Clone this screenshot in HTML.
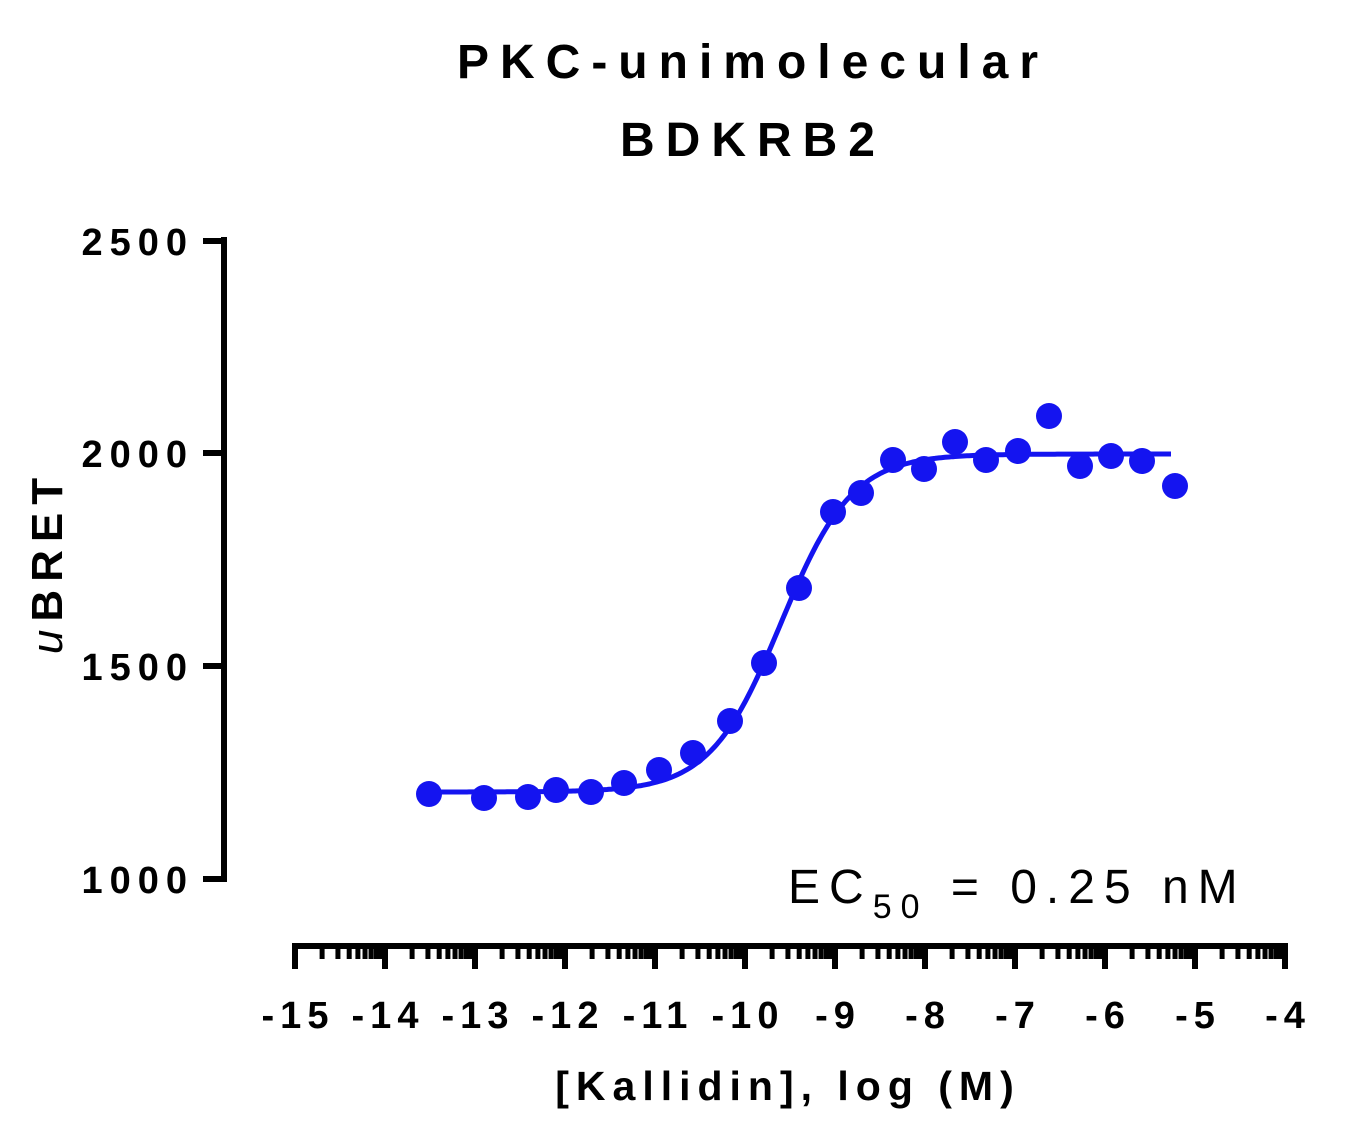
<!DOCTYPE html>
<html><head><meta charset="utf-8"><style>
html,body{margin:0;padding:0;background:#fff;}
svg{display:block;}
text{font-family:"Liberation Sans",Arial,sans-serif;fill:#000;}
</style></head><body>
<svg id="s" width="1348" height="1138" viewBox="0 0 1348 1138" xmlns="http://www.w3.org/2000/svg">
<text x="753" y="78" font-size="48" font-weight="bold" text-anchor="middle" letter-spacing="11">PKC-unimolecular</text>
<text x="753" y="156" font-size="48" font-weight="bold" text-anchor="middle" letter-spacing="11">BDKRB2</text>
<g font-size="38" font-weight="bold" text-anchor="end" letter-spacing="7">
<text x="194" y="255">2500</text>
<text x="194" y="467">2000</text>
<text x="194" y="680">1500</text>
<text x="194" y="893">1000</text>
</g>
<text transform="translate(62,562) rotate(-90)" font-size="44" font-weight="bold" text-anchor="middle" letter-spacing="8"><tspan font-style="italic" font-weight="normal">u</tspan>BRET</text>
<g stroke="#000" stroke-width="6" fill="none">
<path d="M224 237 V882"/>
<path d="M203 241 H224 M203 453 H224 M203 666 H224 M203 879 H224"/>
<path d="M292 946 H1288"/>
</g>
<g id="xt" stroke="#000" stroke-width="6"></g>
<g font-size="38" font-weight="bold" text-anchor="middle" letter-spacing="6" id="xl"></g>
<text x="788" y="1100" font-size="41" font-weight="bold" text-anchor="middle" letter-spacing="7">[Kallidin], log (M)</text>
<text x="788" y="903" font-size="48" letter-spacing="9">EC<tspan font-size="34" dy="15">50</tspan><tspan dy="-15"> = 0.25 nM</tspan></text>
<path id="curve" stroke="#1414f0" stroke-width="5" fill="none"/>
<g id="pts" fill="#1414f0"></g>
</svg>
<script>
var ns="http://www.w3.org/2000/svg";
function X(l){return 295+(l+15)*90;}
var xt=document.getElementById('xt'),xl=document.getElementById('xl');
for(var d=-15;d<=-4;d++){
 var l=document.createElementNS(ns,'line');l.setAttribute('x1',X(d));l.setAttribute('x2',X(d));l.setAttribute('y1',944);l.setAttribute('y2',969);xt.appendChild(l);
 var t=document.createElementNS(ns,'text');t.setAttribute('x',X(d)+3);t.setAttribute('y',1028);t.textContent=String(d);xl.appendChild(t);
 if(d<-4)for(var k=2;k<=9;k++){var x=X(d)+90*Math.log10(k);var m=document.createElementNS(ns,'line');m.setAttribute('x1',x);m.setAttribute('x2',x);m.setAttribute('y1',944);m.setAttribute('y2',959);m.setAttribute('stroke-width',5);xt.appendChild(m);}
}
var p="";for(var x=429;x<=1172;x+=2){var lg=(x-295)/90-15;var y=792-(792-454)/(1+Math.pow(10,(-9.6-lg)*1.1));p+=(p?"L":"M")+x+" "+y.toFixed(1);}
document.getElementById('curve').setAttribute('d',p);
var P=[[429,794],[484,798],[528,797],[556,790],[591,792],[624,783],[659,770],[693,753],[730,721],[764,663],[799,588],[833,512],[861,493],[893,460],[924,469],[955,442],[986,460],[1018,451],[1049,416],[1080,466],[1111,456],[1142,461],[1175,486]];
var g=document.getElementById('pts');P.forEach(function(q){var c=document.createElementNS(ns,'circle');c.setAttribute('cx',q[0]);c.setAttribute('cy',q[1]);c.setAttribute('r',13);g.appendChild(c);});
</script>
</body></html>
